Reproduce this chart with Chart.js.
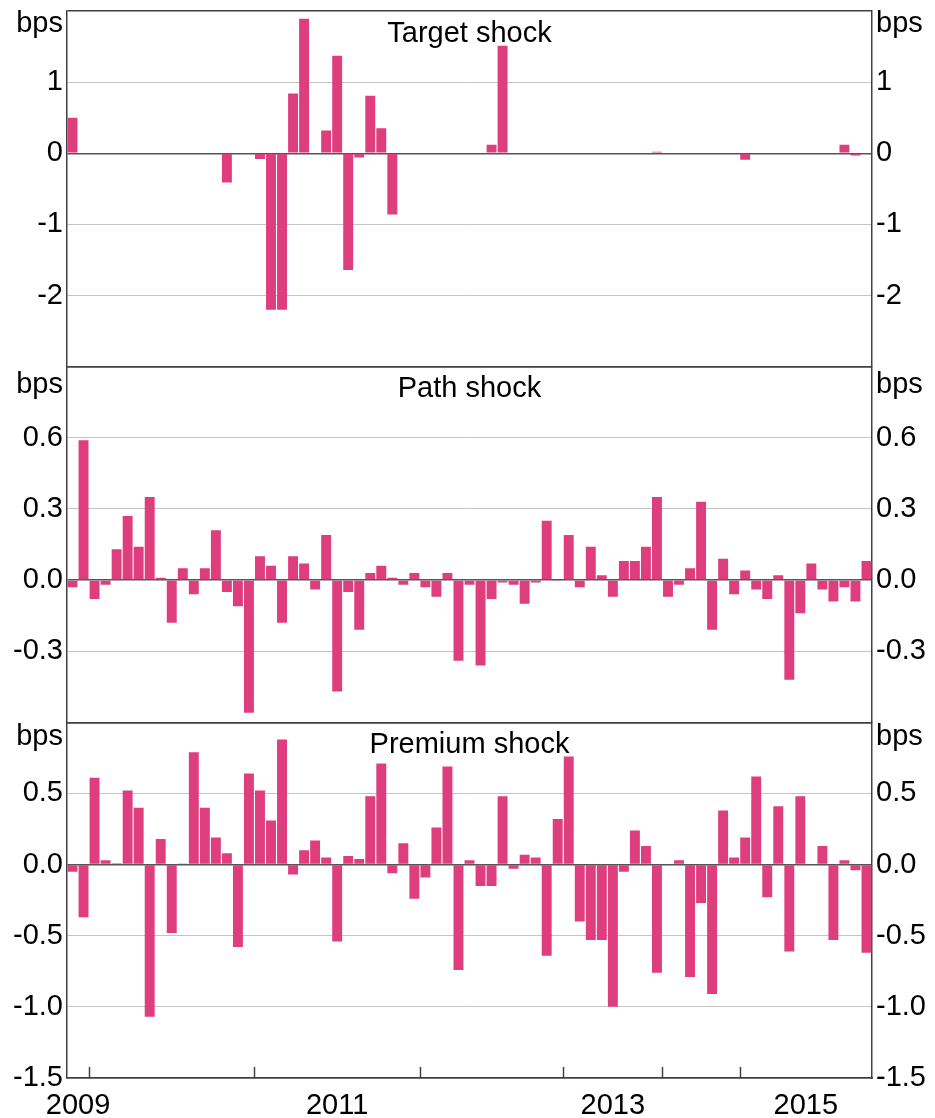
<!DOCTYPE html>
<html lang="en">
<head>
    <meta charset="UTF-8">
    <title>Target, path and premium shocks</title>
    <script src="https://cdn.jsdelivr.net/npm/chart.js"></script>
    <style>
        body { margin: 0; background: #fff; }
        #wrap { width: 935px; height: 1118px; }
    </style>
</head>
<body>
<div id="wrap"><canvas id="shocks" width="935" height="1118"></canvas></div>
<script>
    // one bar per policy announcement, early 2009 to late 2015 (bps)
    const targetShock = [
        0.50, 0, 0, 0, 0, 0, 0, 0, 0, 0,
        0, 0, 0, 0, -0.41, 0, 0, -0.08, -2.20, -2.20,
        0.84, 1.89, 0, 0.32, 1.37, -1.64, -0.06, 0.81, 0.35, -0.86,
        0, 0, 0, 0, 0, 0, 0, 0, 0.12, 1.51,
        0, 0, 0, 0, 0, 0, 0, 0, 0, 0,
        0, 0, 0, 0.02, 0, 0, 0, 0.01, 0, 0,
        0, -0.09, 0, 0, 0, 0, 0, 0, 0, 0,
        0.12, -0.03, 0
    ];
    const pathShock = [
        -0.03, 0.59, -0.08, -0.02, 0.13, 0.27, 0.14, 0.35, 0.01, -0.18,
        0.05, -0.06, 0.05, 0.21, -0.05, -0.11, -0.56, 0.10, 0.06, -0.18,
        0.10, 0.07, -0.04, 0.19, -0.47, -0.05, -0.21, 0.03, 0.06, 0.01,
        -0.02, 0.03, -0.03, -0.07, 0.03, -0.34, -0.02, -0.36, -0.08, -0.01,
        -0.02, -0.10, -0.01, 0.25, -0.004, 0.19, -0.03, 0.14, 0.02, -0.07,
        0.08, 0.08, 0.14, 0.35, -0.07, -0.02, 0.05, 0.33, -0.21, 0.09,
        -0.06, 0.04, -0.04, -0.08, 0.02, -0.42, -0.14, 0.07, -0.04, -0.09,
        -0.03, -0.09, 0.08
    ];
    const premiumShock = [
        -0.05, -0.37, 0.61, 0.03, 0.01, 0.52, 0.40, -1.07, 0.18, -0.48,
        0.005, 0.79, 0.40, 0.19, 0.08, -0.58, 0.64, 0.52, 0.31, 0.88,
        -0.07, 0.10, 0.17, 0.05, -0.54, 0.06, 0.04, 0.48, 0.71, -0.06,
        0.15, -0.24, -0.09, 0.26, 0.69, -0.74, 0.03, -0.15, -0.15, 0.48,
        -0.03, 0.07, 0.05, -0.64, 0.32, 0.76, -0.40, -0.53, -0.53, -1.00,
        -0.05, 0.24, 0.13, -0.76, 0, 0.03, -0.79, -0.27, -0.91, 0.38,
        0.05, 0.19, 0.62, -0.23, 0.41, -0.61, 0.48, 0, 0.13, -0.53,
        0.03, -0.04, -0.62
    ];

    // position (announcement index) where each year starts
    const years = [2009, 2010, 2011, 2012, 2013, 2014, 2015];
    const yearStart = [0, 2, 17, 32, 45, 54, 61];
    const labelledYears = [2009, 2011, 2013, 2015];

    const FONT = "'Liberation Sans', Arial, sans-serif";
    const PINK = '#de3e7e';
    const FRAME = '#404040';
    const GRID = '#c4c4c4';

    Chart.defaults.font.family = FONT;
    Chart.defaults.color = '#000';

    const n = targetShock.length;

    // panels top to bottom
    const panels = [
        { id: 'yT', title: 'Target shock', data: targetShock, min: -3, max: 2, step: 1, dp: 0, bps: 21, showMin: false },
        { id: 'yP', title: 'Path shock', data: pathShock, min: -0.6, max: 0.9, step: 0.3, dp: 1, bps: 26, showMin: false },
        { id: 'yR', title: 'Premium shock', data: premiumShock, min: -1.5, max: 1, step: 0.5, dp: 1, bps: 23, showMin: true }
    ];

    function yearMid(year) {
        const k = years.indexOf(year);
        const end = k + 1 < yearStart.length ? yearStart[k + 1] : n;
        return (yearStart[k] + end) / 2;
    }

    function tickCallback(p) {
        return function (value, index, ticks) {
            if (index === ticks.length - 1) return '';   // 'bps' goes up there
            if (index === 0 && !p.showMin) return '';
            const v = Math.abs(value) < 1e-9 ? 0 : value;
            return v.toFixed(p.dp);
        };
    }

    function isFrameLine(c) {
        return c.index === 0 || c.index === c.scale.ticks.length - 1;
    }

    const tickFont = { size: 29 };

    const scales = {
        x: {
            type: 'linear',
            min: 0,
            max: n,
            offset: false,
            grid: { display: false },
            border: { color: FRAME, width: 1.5 },
            afterBuildTicks: s => {
                s.ticks = labelledYears.map(y => ({ value: yearMid(y) }));
            },
            afterFit: s => {
                s.height = 40;
                s.paddingLeft = 0;
                s.paddingRight = 0;
            },
            ticks: {
                autoSkip: false,
                maxRotation: 0,
                padding: 3,
                font: tickFont,
                callback: (v, i) => String(labelledYears[i])
            }
        }
    };

    panels.forEach((p, i) => {
        const common = {
            type: 'linear',
            min: p.min,
            max: p.max,
            ticks: {
                stepSize: p.step,
                autoSkip: false,
                padding: 4,
                font: tickFont,
                callback: tickCallback(p)
            },
            border: { color: FRAME, width: 1.5 }
        };
        scales[p.id] = Object.assign({}, common, {
            position: 'left',
            stack: 'left',
            weight: 3 - i,
            grid: {
                drawTicks: false,
                color: c => isFrameLine(c) ? FRAME : (Math.abs(c.tick.value) < 1e-9 ? '#555' : GRID),
                lineWidth: c => (isFrameLine(c) || Math.abs(c.tick.value) < 1e-9) ? 1.5 : 1
            },
            afterFit: s => {
                s.width = 67;
                s.paddingTop = 0;
                s.paddingBottom = 0;
            }
        });
        scales[p.id + 'r'] = Object.assign({}, common, {
            position: 'right',
            stack: 'right',
            weight: i + 1,
            grid: { display: false, drawTicks: false },
            afterFit: s => {
                s.width = 935 - 872;
                s.paddingTop = 0;
                s.paddingBottom = 0;
            }
        });
    });

    // titles, 'bps' units and the year ticks on the bottom axis
    const panelText = {
        id: 'panelText',
        afterDraw(chart) {
            const { ctx, chartArea } = chart;
            ctx.save();
            ctx.fillStyle = '#000';
            ctx.font = '29px ' + FONT;
            ctx.textBaseline = 'alphabetic';
            panels.forEach(p => {
                const s = chart.scales[p.id];
                ctx.textAlign = 'center';
                ctx.fillText(p.title, (chartArea.left + chartArea.right) / 2, s.top + 30.5);
                ctx.textAlign = 'right';
                ctx.fillText('bps', chartArea.left - 4, s.top + p.bps);
                ctx.textAlign = 'left';
                ctx.fillText('bps', chartArea.right + 4, s.top + p.bps);
            });

            const x = chart.scales.x;
            ctx.strokeStyle = FRAME;
            ctx.lineWidth = 1.5;
            yearStart.slice(1).forEach(v => {
                const px = Math.round(x.getPixelForValue(v)) + 0.5;
                ctx.beginPath();
                ctx.moveTo(px, chartArea.bottom);
                ctx.lineTo(px, chartArea.bottom - 11);
                ctx.stroke();
            });
            ctx.restore();
        }
    };

    const shockChart = new Chart(document.getElementById('shocks'), {
        type: 'bar',
        data: {
            datasets: panels.map(p => ({
                label: p.title,
                data: p.data.map((v, i) => ({ x: i + 0.5, y: v })),
                yAxisID: p.id,
                backgroundColor: PINK,
                borderWidth: 0,
                grouped: false,
                barPercentage: 1,
                categoryPercentage: 0.9
            }))
        },
        options: {
            responsive: false,
            animation: false,
            devicePixelRatio: 1,
            layout: { padding: { top: 11, left: 0, right: 0, bottom: 0 } },
            plugins: {
                legend: { display: false },
                tooltip: { enabled: false }
            },
            scales: scales
        },
        plugins: [panelText]
    });
</script>
</body>
</html>
